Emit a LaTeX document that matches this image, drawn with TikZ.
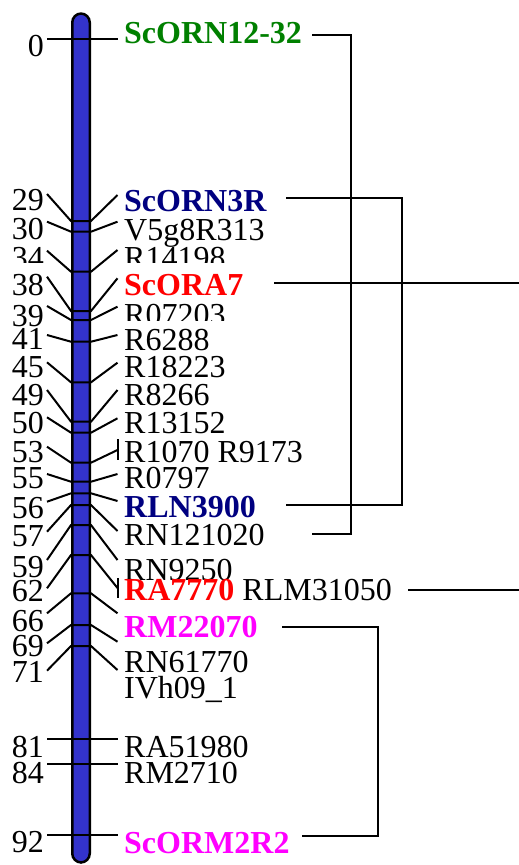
\documentclass[tikz,border=0pt]{standalone}
\usepackage{fontspec}
\setmainfont{Liberation Serif}
\definecolor{barblue}{RGB}{51,51,204}
\definecolor{mgreen}{RGB}{0,128,0}
\definecolor{mnavy}{RGB}{0,0,128}
\definecolor{mred}{RGB}{255,0,0}
\definecolor{mmag}{RGB}{255,0,255}
\begin{document}
\begin{tikzpicture}[x=1pt,y=-1pt,
  lbl/.style={anchor=base west, inner sep=0pt, font=\fontsize{32}{36}\selectfont},
  blbl/.style={anchor=base west, inner sep=0pt, font=\fontsize{32}{36}\selectfont\bfseries},
  num/.style={anchor=base east, inner sep=0pt, font=\fontsize{32}{36}\selectfont},
  link/.style={line width=2pt, line join=miter}]
\useasboundingbox (0,0) rectangle (519,865);
% chromosome bar
\node (bar) [draw=black, fill=barblue, line width=2.5pt, rounded corners=9pt,
  minimum width=17.5pt, minimum height=849pt, inner sep=0pt] at (81,438) {};
% marker ticks and fan lines
\foreach \n/\t/\l/\r in {0/39/39/39, 29/221/194/195, 30/231.7/221.7/221.7,
  34/271.7/250.7/250, 38/311/276.7/278.3, 39/320/306/306.7, 41/341.7/335/335,
  45/382.3/362.3/362.7, 49/421.7/390/390, 50/432.7/417.3/418.3,
  53/462.7/446.7/450, 55/481.7/474/474, 56/493.3/501.7/501, 57/505/531.7/531,
  59/525/560/560, 62/555/588.3/588, 66/593.3/613.3/613.3, 69/625/643.3/641.7,
  71/646/670.7/670, 81/739/739/739, 84/764/764/764, 92/835/835/835}{
  \coordinate (L\n) at (47,\l);
  \coordinate (A\n) at (71,\t);
  \coordinate (B\n) at (91,\t);
  \coordinate (R\n) at (117.5,\r);
  \draw[link] (L\n) -- (A\n) -- (B\n) -- (R\n);
}
% position numbers
\foreach \n/\b in {0/56, 29/210, 30/239, 38/295, 39/326, 41/349, 45/377, 49/405,
  50/433, 53/462, 55/488, 56/518, 57/546, 59/577, 62/601, 66/631, 69/656,
  71/682, 81/757, 84/783, 92/852}{
  \node[num] (N\n) at (44,\b) {\n};
}
% multi-marker brackets
\coordinate (V53a) at (117.5,439);
\coordinate (V53b) at (117.5,460);
\draw[link] (V53a) -- (V53b);
\coordinate (V62a) at (117.5,578);
\coordinate (V62b) at (117.5,598);
\draw[link] (V62a) -- (V62b);
% labels
\node[blbl, text=mgreen] (T0) at (124,43) {ScORN12-32};
\node[blbl, text=mnavy] (T29) at (124,211) {ScORN3R};
\node[lbl] (T30) at (124,240) {V5g8R313};
\begin{scope}
  \clip (0,0) rectangle (519,262.5);
  \node[num] (N34) at (44,268) {34};
  \node[lbl] (T34) at (124,268) {R14198};
\end{scope}
\node[blbl, text=mred] (T38) at (124,295) {ScORA7};
\begin{scope}
  \clip (0,0) rectangle (519,320.5);
  \node[lbl] (T39) at (124,325) {R07203};
\end{scope}
\node[lbl] (T41) at (124,350) {R6288};
\node[lbl] (T45) at (124,377) {R18223};
\node[lbl] (T49) at (124,405) {R8266};
\node[lbl] (T50) at (124,433) {R13152};
\node[lbl] (T53) at (124,462) {R1070 R9173};
\node[lbl] (T55) at (124,488) {R0797};
\node[blbl, text=mnavy] (T56) at (124,517) {RLN3900};
\node[lbl] (T57) at (124,545) {RN121020};
\node[lbl] (T59) at (124,580) {RN9250};
\node[lbl] (T62) at (124,600) {{\bfseries\color{mred}RA7770} RLM31050};
\node[blbl, text=mmag] (T66) at (124,637) {RM22070};
\node[lbl] (T69) at (124,672) {RN61770};
\node[lbl] (T71) at (124,698) {IVh09\_1};
\node[lbl] (T81) at (124,757) {RA51980};
\node[lbl] (T84) at (124,783) {RM2710};
\node[blbl, text=mmag] (T92) at (124,853) {ScORM2R2};
% right-hand connectors
\coordinate (b1a) at (312,35);
\coordinate (b1b) at (351,35);
\coordinate (b1c) at (351,534);
\coordinate (b1d) at (312,534);
\draw[link] (b1a) -- (b1b) -- (b1c) -- (b1d);
\coordinate (b2a) at (286,198.3);
\coordinate (b2b) at (402,198.3);
\coordinate (b2c) at (402,505);
\coordinate (b2d) at (286,505);
\draw[link] (b2a) -- (b2b) -- (b2c) -- (b2d);
\coordinate (c1a) at (274,283.3);
\coordinate (c1b) at (519,283.3);
\draw[link] (c1a) -- (c1b);
\coordinate (c2a) at (408,590);
\coordinate (c2b) at (519,590);
\draw[link] (c2a) -- (c2b);
\coordinate (b3a) at (282,626.7);
\coordinate (b3b) at (378,626.7);
\coordinate (b3c) at (378,836);
\coordinate (b3d) at (302,836);
\draw[link] (b3a) -- (b3b) -- (b3c) -- (b3d);
\end{tikzpicture}
\end{document}
